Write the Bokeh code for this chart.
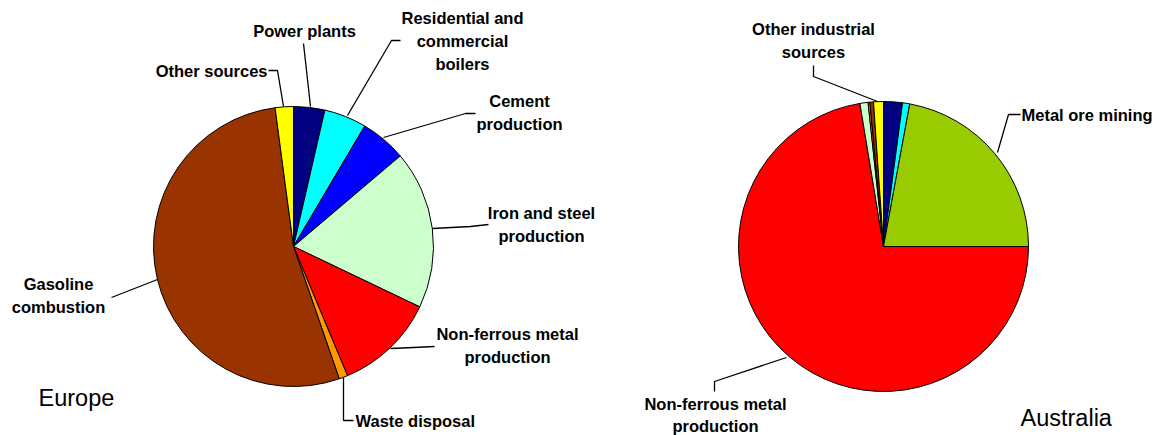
import math
from bokeh.plotting import figure
from bokeh.models import Range1d
from bokeh.embed import file_html
from bokeh.resources import INLINE
from bokeh.core.properties import value

# ---------------- data ----------------
eu_categories = ["Power plants", "Residential and commercial boilers", "Cement production",
                 "Iron and steel production", "Non-ferrous metal production", "Waste disposal",
                 "Gasoline combustion", "Other sources"]
eu_values = [3.6, 4.9, 5.3, 18.3, 11.6, 1.0, 53.2, 2.1]

au_categories = ["Power plants", "Residential and commercial boilers", "Metal ore mining",
                 "Non-ferrous metal production", "Iron and steel production", "Waste disposal",
                 "Gasoline combustion", "Other industrial sources"]
au_values = [2.1, 0.8, 22.1, 72.4, 0.9, 0.2, 0.4, 1.1]

eu_colors = ["#000080", "#00FFFF", "#0000FF", "#CCFFCC", "#FF0000", "#FF9900", "#993300", "#FFFF00"]
au_colors = ["#000080", "#00FFFF", "#99CC00", "#FF0000", "#CCFFCC", "#FF9900", "#993300", "#FFFF00"]

# ---------------- layout (screen px) ----------------
W, H = 1164, 435
def Y(v):
    return H - v

p = figure(width=W, height=H, output_backend="svg", toolbar_location=None,
           x_range=Range1d(0, W), y_range=Range1d(0, H), min_border=0)
p.axis.visible = False
p.grid.visible = False
p.outline_line_color = None
p.background_fill_color = "white"
p.border_fill_color = "white"

def draw_pie(cx, cy, r, vals, cols):
    tot = sum(vals)
    acc = 0.0
    starts, ends = [], []
    for v in vals:
        a1 = acc / tot * 2 * math.pi
        acc += v
        a2 = acc / tot * 2 * math.pi
        starts.append(math.pi / 2 - a1)
        ends.append(math.pi / 2 - a2)
    p.wedge(x=[cx] * len(vals), y=[Y(cy)] * len(vals), radius=r,
            start_angle=starts, end_angle=ends, direction="clock",
            fill_color=cols, line_color="black", line_width=1)

draw_pie(293, 246, 140, eu_values, eu_colors)
draw_pie(883, 246, 145, au_values, au_colors)

# labels: (lines, x, first-line y, align, line spacing)
LBL_FONT = value("Liberation Sans")
labels = [
    (["Other sources"], 267, 70, "right", 23),
    (["Power plants"], 304, 30, "center", 23),
    (["Residential and", "commercial", "boilers"], 462, 17, "center", 23),
    (["Cement", "production"], 519, 100, "center", 23),
    (["Iron and steel", "production"], 541, 212, "center", 23),
    (["Non-ferrous metal", "production"], 507, 333, "center", 23),
    (["Gasoline", "combustion"], 58, 283, "center", 23),
    (["Waste disposal"], 355, 420, "left", 23),
    (["Other industrial", "sources"], 813, 28, "center", 23),
    (["Metal ore mining"], 1021, 114, "left", 23),
    (["Non-ferrous metal", "production"], 715, 403, "center", 22),
]
for lines, x, y0, al, ls in labels:
    for i, t in enumerate(lines):
        p.text(x=[x], y=[Y(y0 + i * ls)], text=[t], text_font=LBL_FONT,
               text_font_style="bold", text_font_size="16.5px", text_align=al,
               text_baseline="middle", text_color="black")

leaders = [
    [(268, 70), (277, 70), (283, 106)],
    [(303, 43), (310, 106)],
    [(400, 40), (391, 40), (347, 115)],
    [(475, 113), (465, 113), (383, 137)],
    [(488, 224), (470, 226), (432, 228)],
    [(390, 348), (413, 347), (434, 346)],
    [(343, 377), (343, 420), (353, 420)],
    [(111, 297), (157, 279)],
    [(813, 65), (813, 76), (877, 101)],
    [(1020, 114), (1008, 114), (997, 152)],
    [(714, 391), (714, 381), (786, 357)],
]
for pts in leaders:
    p.line([a for a, b in pts], [Y(b) for a, b in pts], line_color="black", line_width=1.3)

for t, x, y in [("Europe", 38, 397), ("Australia", 1020, 417)]:
    p.text(x=[x], y=[Y(y)], text=[t], text_font=LBL_FONT, text_font_size="23.5px",
           text_align="left", text_baseline="middle", text_color="black")

open("out.html", "w").write(file_html(p, INLINE))
